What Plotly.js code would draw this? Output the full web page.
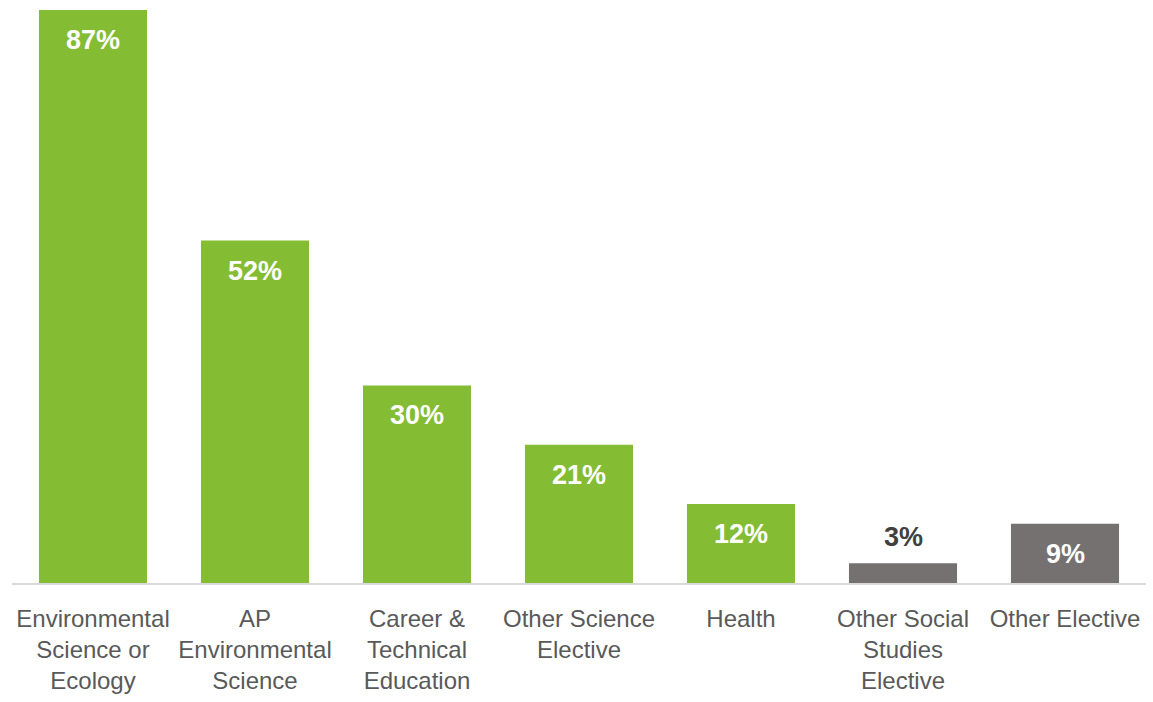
<!DOCTYPE html>
<html><head><meta charset="utf-8">
<script src="https://cdn.plot.ly/plotly-3.0.1.min.js"></script>
<style>html,body{margin:0;padding:0;background:#fff}#c{width:1153px;height:702px}</style>
</head><body><div id="c"></div>
<script>
const categories = ["Environmental<br>Science or<br>Ecology","AP<br>Environmental<br>Science","Career &<br>Technical<br>Education","Other Science<br>Elective","Health","Other Social<br>Studies<br>Elective","Other Elective"];
const values = [87,52,30,21,12,3,9];
const labels = ["87%","52%","30%","21%","12%","3%","9%"];
const barColors = ["#84BC33","#84BC33","#84BC33","#84BC33","#84BC33","#767171","#767171"];
const labelInside = [true,true,true,true,true,false,true];

const FONT = "'Liberation Sans Narrow', 'Arial Narrow', 'Liberation Sans', Arial, sans-serif";
const annotations = categories.map((c,i)=>({
  x: c, y: values[i], xref:'x', yref:'y', text: '<b>'+labels[i]+'</b>', showarrow:false,
  yshift: labelInside[i] ? -30 : 26,
  font:{family:FONT, size:27, color: labelInside[i] ? '#FFFFFF' : '#404040'}
}));

Plotly.newPlot('c',[{
  type:'bar', x:categories, y:values, marker:{color:barColors, line:{width:0}},
  hoverinfo:'none'
}],{
  width:1153, height:702,
  margin:{l:12, r:7, t:9.5, b:118.5},
  paper_bgcolor:'#fff', plot_bgcolor:'#fff',
  bargap:0.333,
  showlegend:false,
  xaxis:{showline:true, linecolor:'#D9D9D9', linewidth:2, ticks:'', showgrid:false, tickangle:0,
    tickfont:{family:FONT, size:24, color:'#595959'}, ticklabelstandoff:13, automargin:false},
  yaxis:{range:[0,87], visible:false, showgrid:false, zeroline:false},
  annotations: annotations
},{staticPlot:true});
</script></body></html>
